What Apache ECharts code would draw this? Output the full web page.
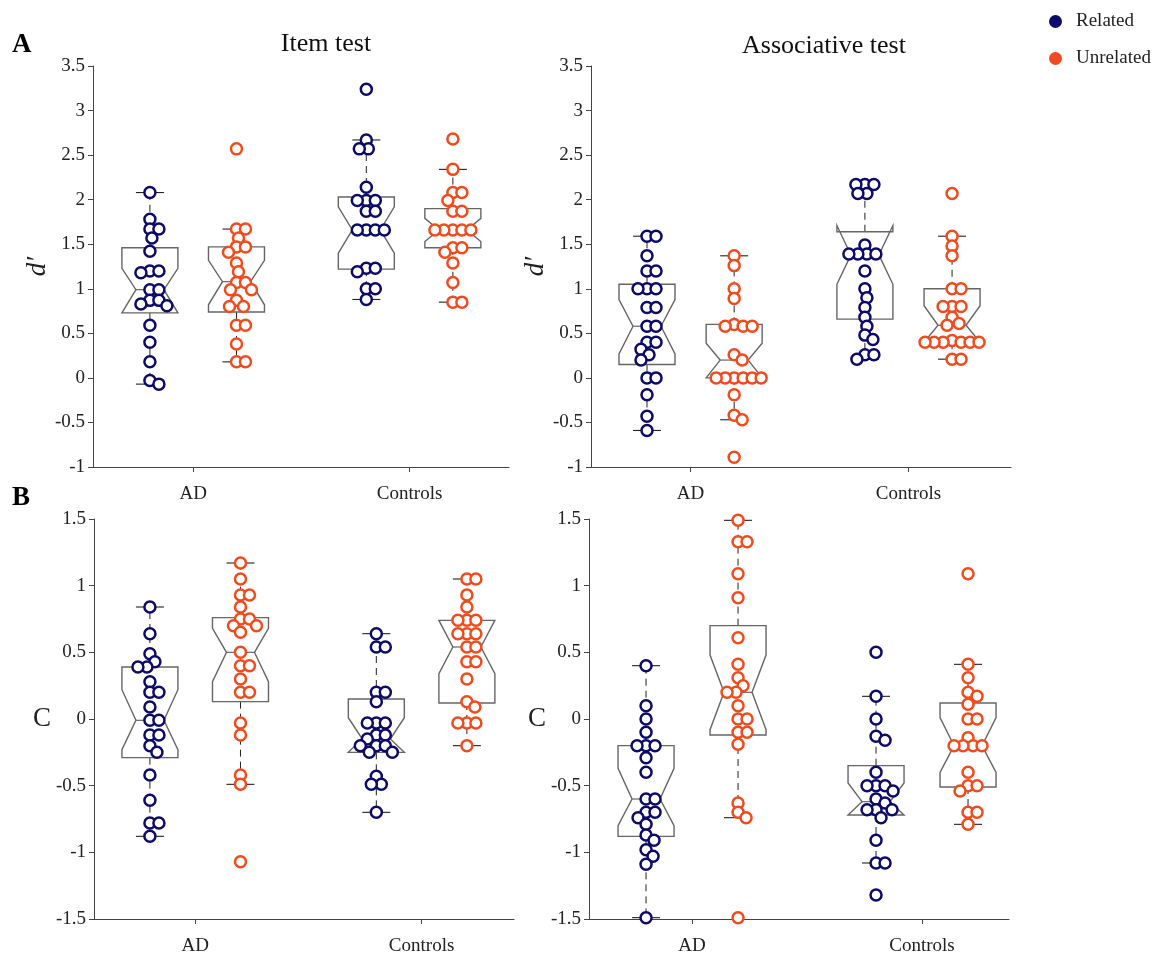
<!DOCTYPE html>
<html><head><meta charset="utf-8">
<script src="https://cdn.jsdelivr.net/npm/echarts@6/dist/echarts.min.js"></script>
<style>html,body{margin:0;padding:0;background:#fff}#c{width:1170px;height:961px}</style>
</head><body><div id="c"></div>
<script>
// ---------- DATA ----------
const categories = ['AD', 'Controls'];
const conditions = ['Related', 'Unrelated'];
const panelTitles = ['Item test', 'Associative test'];
const rowLetters = ['A', 'B'];
const rowMeasures = ['d\u2032', 'C'];

// Item test, d'
const itemDRelAD   = [2.08, 1.78, 1.67, 1.67, 1.57, 1.42, 1.20, 1.20, 1.18, 0.99, 0.99, 0.87, 0.87, 0.83, 0.81, 0.59, 0.40, 0.18, -0.03, -0.07];
const itemDUnrAD   = [2.57, 1.67, 1.67, 1.57, 1.47, 1.47, 1.41, 1.29, 1.19, 1.07, 1.07, 0.99, 0.99, 0.87, 0.80, 0.80, 0.59, 0.59, 0.38, 0.18, 0.18];
const itemDRelCtrl = [3.24, 2.67, 2.57, 2.57, 2.14, 1.99, 1.99, 1.99, 1.87, 1.87, 1.66, 1.66, 1.66, 1.66, 1.23, 1.23, 1.19, 1.00, 1.00, 0.88];
const itemDUnrCtrl = [2.68, 2.34, 2.08, 2.08, 1.99, 1.87, 1.87, 1.66, 1.66, 1.66, 1.66, 1.66, 1.46, 1.46, 1.41, 1.29, 1.07, 0.85, 0.85];
// Associative test, d'
const assocDRelAD   = [1.59, 1.59, 1.37, 1.20, 1.20, 1.00, 1.00, 1.00, 0.79, 0.79, 0.58, 0.58, 0.40, 0.40, 0.32, 0.26, 0.20, 0.00, 0.00, -0.19, -0.43, -0.59];
const assocDUnrAD   = [1.37, 1.26, 1.00, 0.89, 0.60, 0.58, 0.58, 0.58, 0.26, 0.20, 0.00, 0.00, 0.00, 0.00, 0.00, 0.00, -0.19, -0.42, -0.47, -0.89];
const assocDRelCtrl = [2.17, 2.17, 2.17, 2.07, 2.07, 1.49, 1.39, 1.39, 1.39, 1.39, 1.20, 1.00, 0.90, 0.79, 0.68, 0.58, 0.48, 0.43, 0.26, 0.26, 0.21];
const assocDUnrCtrl = [2.07, 1.59, 1.48, 1.37, 1.00, 1.00, 0.80, 0.80, 0.80, 0.68, 0.61, 0.59, 0.42, 0.40, 0.40, 0.40, 0.40, 0.40, 0.40, 0.21, 0.21];
// Item test, C
const itemCRelAD   = [0.84, 0.64, 0.49, 0.43, 0.39, 0.39, 0.28, 0.20, 0.20, 0.09, -0.01, -0.01, -0.12, -0.12, -0.20, -0.25, -0.42, -0.61, -0.78, -0.78, -0.88];
const itemCUnrAD   = [1.17, 1.05, 0.93, 0.93, 0.84, 0.75, 0.75, 0.70, 0.70, 0.65, 0.50, 0.40, 0.40, 0.30, 0.20, 0.20, -0.03, -0.12, -0.42, -0.49, -1.07];
const itemCRelCtrl = [0.64, 0.54, 0.54, 0.20, 0.20, 0.13, -0.03, -0.03, -0.03, -0.12, -0.12, -0.15, -0.20, -0.20, -0.20, -0.25, -0.25, -0.43, -0.49, -0.49, -0.70];
const itemCUnrCtrl = [1.05, 1.05, 0.93, 0.84, 0.74, 0.74, 0.74, 0.64, 0.64, 0.64, 0.54, 0.54, 0.43, 0.43, 0.30, 0.13, 0.09, -0.03, -0.03, -0.03, -0.20];
// Associative test, C
const assocCRelAD   = [0.40, 0.10, 0.00, -0.10, -0.20, -0.20, -0.20, -0.29, -0.40, -0.60, -0.60, -0.70, -0.70, -0.74, -0.79, -0.87, -0.91, -0.98, -1.03, -1.09, -1.49];
const assocCUnrAD   = [1.49, 1.33, 1.33, 1.09, 0.91, 0.61, 0.41, 0.31, 0.25, 0.20, 0.20, 0.10, 0.00, 0.00, -0.10, -0.10, -0.19, -0.63, -0.70, -0.74, -1.49];
const assocCRelCtrl = [0.50, 0.17, 0.00, -0.13, -0.16, -0.40, -0.50, -0.50, -0.50, -0.54, -0.60, -0.63, -0.68, -0.68, -0.68, -0.74, -0.91, -1.08, -1.08, -1.32];
const assocCUnrCtrl = [1.09, 0.41, 0.31, 0.20, 0.17, 0.11, 0.00, 0.00, -0.14, -0.20, -0.20, -0.20, -0.20, -0.40, -0.50, -0.50, -0.54, -0.70, -0.70, -0.79];

// Box stats: [whiskerLow, q1, notchLow, median, notchHigh, q3, whiskerHigh]
const boxItemDRelAD    = [-0.07, 0.73, 0.73, 0.99, 1.23, 1.46, 2.08];
const boxItemDUnrAD    = [0.18, 0.74, 0.82, 1.08, 1.32, 1.47, 1.67];
const boxItemDRelCtrl  = [0.88, 1.22, 1.40, 1.66, 1.92, 2.03, 2.67];
const boxItemDUnrCtrl  = [0.85, 1.46, 1.53, 1.66, 1.79, 1.90, 2.34];
const boxAssocDRelAD   = [-0.59, 0.15, 0.27, 0.58, 0.88, 1.05, 1.59];
const boxAssocDUnrAD   = [-0.47, 0.00, 0.00, 0.20, 0.39, 0.60, 1.37];
const boxAssocDRelCtrl = [0.21, 0.66, 1.05, 1.38, 1.71, 1.64, 2.17];
const boxAssocDUnrCtrl = [0.21, 0.40, 0.40, 0.59, 0.81, 1.00, 1.59];
const boxItemCRelAD    = [-0.88, -0.29, -0.23, -0.01, 0.22, 0.39, 0.84];
const boxItemCUnrAD    = [-0.49, 0.13, 0.28, 0.50, 0.68, 0.76, 1.17];
const boxItemCRelCtrl  = [-0.70, -0.25, -0.25, -0.15, 0.01, 0.15, 0.64];
const boxItemCUnrCtrl  = [-0.20, 0.12, 0.34, 0.54, 0.74, 0.74, 1.05];
const boxAssocCRelAD   = [-1.49, -0.88, -0.80, -0.60, -0.37, -0.20, 0.40];
const boxAssocCUnrAD   = [-0.74, -0.12, -0.08, 0.20, 0.48, 0.70, 1.49];
const boxAssocCRelCtrl = [-1.08, -0.72, -0.72, -0.62, -0.48, -0.35, 0.17];
const boxAssocCUnrCtrl = [-0.79, -0.51, -0.40, -0.20, 0.01, 0.12, 0.41];

// ---------- LAYOUT / STYLE ----------
const COLORS = {Related: '#0c0a6a', Unrelated: '#f24a1c'};
const FONT = 'Liberation Serif';
const panels = [
  {left: 93,  top: 66,  width: 416, height: 401, xmin: 0.537, s: 216.4, ymin: -1,   ymax: 3.5, row: 0, col: 0,
   points: [[itemDRelAD, itemDUnrAD], [itemDRelCtrl, itemDUnrCtrl]],
   boxes:  [[boxItemDRelAD, boxItemDUnrAD], [boxItemDRelCtrl, boxItemDUnrCtrl]]},
  {left: 591, top: 66,  width: 420, height: 401, xmin: 0.543, s: 217.9, ymin: -1,   ymax: 3.5, row: 0, col: 1,
   points: [[assocDRelAD, assocDUnrAD], [assocDRelCtrl, assocDUnrCtrl]],
   boxes:  [[boxAssocDRelAD, boxAssocDUnrAD], [boxAssocDRelCtrl, boxAssocDUnrCtrl]]},
  {left: 94,  top: 519, width: 420, height: 400, xmin: 0.553, s: 226.4, ymin: -1.5, ymax: 1.5, row: 1, col: 0,
   points: [[itemCRelAD, itemCUnrAD], [itemCRelCtrl, itemCUnrCtrl]],
   boxes:  [[boxItemCRelAD, boxItemCUnrAD], [boxItemCRelCtrl, boxItemCUnrCtrl]]},
  {left: 589, top: 519, width: 420, height: 400, xmin: 0.552, s: 230.0, ymin: -1.5, ymax: 1.5, row: 1, col: 1,
   points: [[assocCRelAD, assocCUnrAD], [assocCRelCtrl, assocCUnrCtrl]],
   boxes:  [[boxAssocCRelAD, boxAssocCUnrAD], [boxAssocCRelCtrl, boxAssocCUnrCtrl]]}
];
const OFFSET = 0.2;

// beeswarm layout computed in pixel space
function swarm(values, pyu, pxu, center) {
  const order = values.map((v, i) => i).sort((a, b) => values[b] - values[a]);
  const placed = [];
  const out = new Array(values.length);
  const minD = 9;
  for (const i of order) {
    const yp = values[i] * pyu;
    let off = 0;
    for (let k = 0; k < 400; k++) {
      const cand = (k % 2 === 1 ? 1 : -1) * Math.ceil(k / 2);
      if (placed.every(p => Math.hypot(p[0] - cand, p[1] - yp) >= minD)) { off = cand; break; }
    }
    placed.push([off, yp]);
    out[i] = [center + off / pxu, values[i]];
  }
  return out;
}

function renderBox(params, api) {
  const x = api.value(0);
  const v = [1, 2, 3, 4, 5, 6, 7].map(i => api.value(i));
  const y = v.map(val => api.coord([x, val])[1]);
  const cx = api.coord([x, v[3]])[0];
  const [ywl, yq1, ynl, ymed, ynh, yq3, ywh] = y;
  const hw = 28, nw = 14, cap = 14;
  const dash = {stroke: '#222', lineWidth: 1, lineDash: [7, 5]};
  const solid = {stroke: '#222', lineWidth: 1.1};
  return {
    type: 'group',
    children: [
      {type: 'line', shape: {x1: cx, y1: yq3, x2: cx, y2: ywh}, style: dash},
      {type: 'line', shape: {x1: cx, y1: yq1, x2: cx, y2: ywl}, style: dash},
      {type: 'line', shape: {x1: cx - cap, y1: ywh, x2: cx + cap, y2: ywh}, style: solid},
      {type: 'line', shape: {x1: cx - cap, y1: ywl, x2: cx + cap, y2: ywl}, style: solid},
      {type: 'polygon', shape: {points: [
        [cx - hw, yq1], [cx - hw, ynl], [cx - hw + nw, ymed], [cx - hw, ynh], [cx - hw, yq3],
        [cx + hw, yq3], [cx + hw, ynh], [cx + hw - nw, ymed], [cx + hw, ynl], [cx + hw, yq1]]},
        style: {fill: 'rgba(255,255,255,0)', stroke: '#666', lineWidth: 1.4}},
      {type: 'line', shape: {x1: cx - hw + nw, y1: ymed, x2: cx + hw - nw, y2: ymed}, style: {stroke: '#666', lineWidth: 1.2}}
    ]
  };
}

const grid = [], xAxis = [], yAxis = [], series = [];
panels.forEach((p, pi) => {
  const xmax = p.xmin + p.width / p.s;
  const pyu = p.height / (p.ymax - p.ymin);
  grid.push({left: p.left, top: p.top, width: p.width, height: p.height, containLabel: false});
  xAxis.push({
    type: 'value', gridIndex: pi, min: p.xmin, max: xmax,
    axisLine: {show: true, onZero: false, lineStyle: {color: '#444', width: 1}},
    axisTick: {show: true, customValues: [1, 2], length: 5, lineStyle: {color: '#444'}},
    axisLabel: {customValues: [1, 2], formatter: v => categories[Math.round(v) - 1] || '',
      fontFamily: FONT, fontSize: 19, color: '#222', margin: 18},
    splitLine: {show: false}
  });
  yAxis.push({
    type: 'value', gridIndex: pi, min: p.ymin, max: p.ymax, interval: 0.5,
    name: rowMeasures[p.row], nameLocation: 'middle',
    nameRotate: p.row === 0 ? 90 : 0,
    nameGap: p.row === 0 ? 41 : 40,
    nameTextStyle: {fontFamily: FONT, fontSize: 27, color: '#222', fontStyle: p.row === 0 ? 'italic' : 'normal'},
    axisLine: {show: true, onZero: false, lineStyle: {color: '#444', width: 1}},
    axisTick: {show: true, length: 5, lineStyle: {color: '#444'}},
    axisLabel: {fontFamily: FONT, fontSize: 19, color: '#222', margin: 8},
    splitLine: {show: false}
  });
  const boxData = [];
  categories.forEach((cat, ci) => {
    conditions.forEach((cond, ki) => {
      const center = ci + 1 + (ki === 0 ? -OFFSET : OFFSET);
      boxData.push([center].concat(p.boxes[ci][ki]));
    });
  });
  series.push({
    type: 'custom', xAxisIndex: pi, yAxisIndex: pi, renderItem: renderBox,
    data: boxData, z: 1, silent: true, clip: false,
    encode: {x: 0, y: [1, 2, 3, 4, 5, 6, 7]}
  });
  conditions.forEach((cond, ki) => {
    let data = [];
    categories.forEach((cat, ci) => {
      const center = ci + 1 + (ki === 0 ? -OFFSET : OFFSET);
      data = data.concat(swarm(p.points[ci][ki], pyu, p.s, center));
    });
    series.push({
      type: 'scatter', name: cond, xAxisIndex: pi, yAxisIndex: pi, data: data,
      symbol: 'circle', symbolSize: 11, z: 3,
      itemStyle: {color: '#fff', borderColor: COLORS[cond], borderWidth: 2.5, opacity: 1}
    });
  });
});

const graphic = [
  {type: 'text', left: 12, top: 32, style: {text: rowLetters[0], font: 'bold 27px "Liberation Serif"', fill: '#000'}},
  {type: 'text', left: 12, top: 485, style: {text: rowLetters[1], font: 'bold 27px "Liberation Serif"', fill: '#000'}},
  {type: 'text', x: 326, y: 44, style: {text: panelTitles[0], font: '26px "Liberation Serif"', fill: '#111', align: 'center', verticalAlign: 'middle'}},
  {type: 'text', x: 824, y: 46, style: {text: panelTitles[1], font: '26px "Liberation Serif"', fill: '#111', align: 'center', verticalAlign: 'middle'}}
];

const chart = echarts.init(document.getElementById('c'), null, {renderer: 'canvas'});
chart.setOption({
  backgroundColor: '#fff',
  animation: false,
  grid, xAxis, yAxis, series, graphic,
  legend: {
    orient: 'vertical', left: 1044, top: 7, itemGap: 18, itemWidth: 13, itemHeight: 13,
    icon: 'circle',
    data: conditions.map(c => ({name: c, itemStyle: {color: COLORS[c], borderWidth: 0}})),
    textStyle: {fontFamily: FONT, fontSize: 19, color: '#222', padding: [0, 0, 0, 9]}
  }
});
</script></body></html>
